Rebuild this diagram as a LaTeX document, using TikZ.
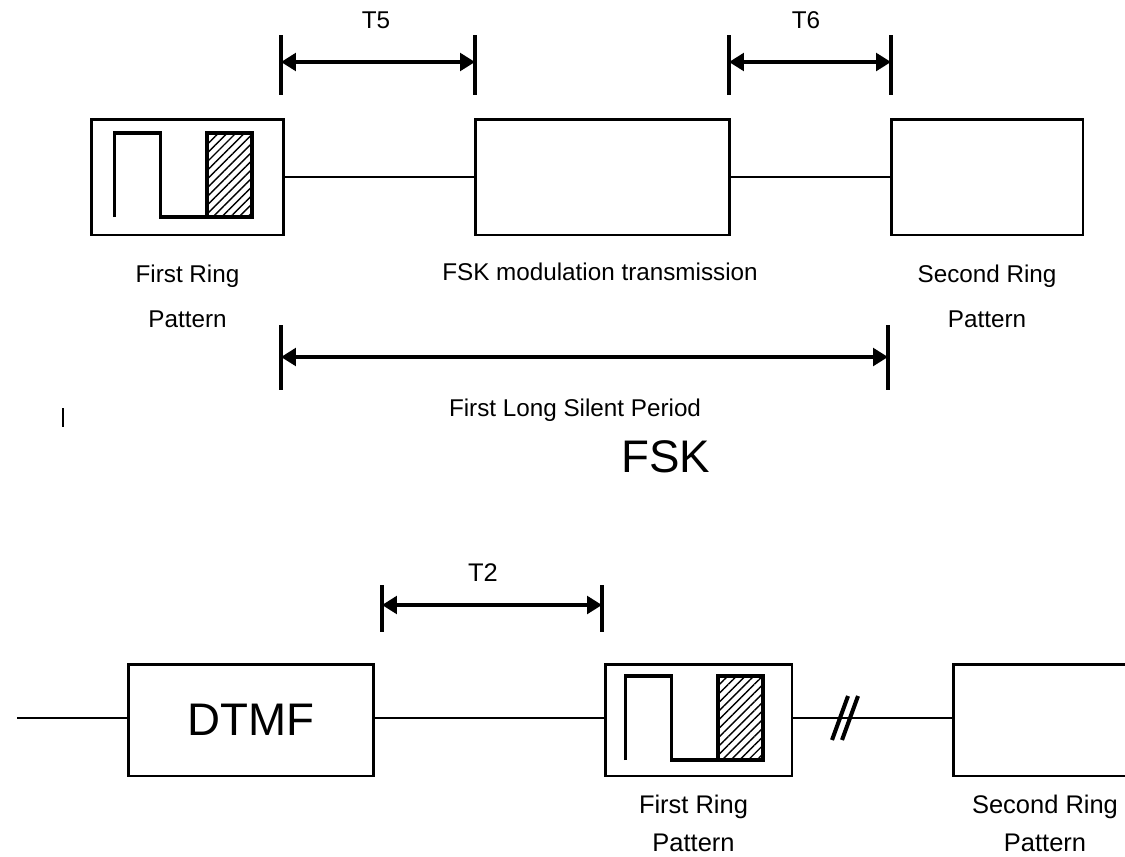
\documentclass[tikz,border=0pt]{standalone}
\usepackage{fontspec}
\setmainfont{Liberation Sans}
\usetikzlibrary{positioning,arrows.meta,patterns.meta}

\begin{document}
\begin{tikzpicture}[
  x=0.02cm, y=-0.02cm,   % one unit = one pixel of the sheet, y downwards
  lbl/.style={font=\fontsize{13.8}{25.5}\selectfont, align=center, inner sep=0pt},
  lblb/.style={font=\fontsize{14.5}{22}\selectfont, align=center, inner sep=0pt},
  big/.style={font=\fontsize{26}{30}\selectfont, inner sep=0pt},
  blk/.style={draw, line width=1.7pt, inner sep=0pt},
  wire/.style={line width=1.3pt},
  tick/.style={line width=2.3pt},
  dim/.style={{Triangle[length=8.5pt,width=10pt]}-{Triangle[length=8.5pt,width=10pt]}, line width=2pt},
  brk/.style={line width=2.3pt},
  pics/ringwave/.style={code={
    \draw[line width=2.2pt, pattern={Lines[angle=45,distance=3.5pt,line width=0.8pt]}]
      (19.5,-44) rectangle (64.5,40);
    \draw[line width=2.2pt] (-73,40) -- (-73,-44) -- (-27,-44) -- (-27,40) -- (19.5,40);
  }}
]

% ---- sheet ----
\clip (0,0) rectangle (1125,856);

% ================= FSK sequence =================
\node[blk, minimum width=3.86cm, minimum height=2.32cm] (ring1) at (187.5,177) {};
\node[blk, minimum width=5.10cm, minimum height=2.32cm] (fsk)   at (602.5,177) {};
\node[blk, minimum width=3.84cm, minimum height=2.32cm] (ring2) at (987,177) {};
\pic at (ring1.center) {ringwave};

\draw[wire] (ring1.east) -- (fsk.west);
\draw[wire] (fsk.east) -- (ring2.west);

\node[lbl, below=0.56cm of ring1] (ring1l) {First Ring\\Pattern};
\node[lbl, below=0.52cm of fsk, xshift=-0.05cm] (fskl) {FSK modulation transmission};
\node[lbl, below=0.56cm of ring2] (ring2l) {Second Ring\\Pattern};

% ---- timing marks ----
\coordinate (t5a) at (281,62);  \coordinate (t5b) at (475,62);
\coordinate (t6a) at (729,62);  \coordinate (t6b) at (891,62);
\coordinate (lsa) at (281,357); \coordinate (lsb) at (888,357);
\foreach \c/\u/\d in {t5a/27/33, t5b/27/33, t6a/27/33, t6b/27/33, lsa/32/33, lsb/32/33}
  {\draw[tick] (\c) ++(0,-\u) -- ++(0,\u+\d);}
\draw[dim] (t5a) -- (t5b);
\draw[dim] (t6a) -- (t6b);
\draw[dim] (lsa) -- (lsb);

\node[lbl] (t5) at (376,20) {T5};
\node[lbl] (t6) at (806,20) {T6};
\node[lbl] (lsp) at (575,410) {First Long Silent Period};
\node[big] (fskt) at (666,457) {FSK};

\coordinate (mk) at (63,417);
\draw[line width=1.2pt] (mk) ++(0,-9) -- ++(0,19);

% ================= DTMF sequence =================
\node[blk, minimum width=4.92cm, minimum height=2.24cm, font=\fontsize{26}{30}\selectfont] (dtmf) at (251,720) {DTMF};
\node[blk, minimum width=3.74cm, minimum height=2.24cm] (ring3) at (698.5,720) {};
\node[blk, minimum width=3.84cm, minimum height=2.24cm] (ring4) at (1049,720) {};
\pic at (ring3.center) {ringwave};

\coordinate (lin) at (17,718);
\draw[wire] (lin) -- (lin -| dtmf.west);
\draw[wire] (dtmf.east |- lin) -- (ring3.west |- lin);
\draw[wire] (ring3.east |- lin) -- (ring4.west |- lin);

% ---- break mark ----
\coordinate (cut) at (845,718);
\foreach \s in {-5,5} {\draw[brk] (cut) ++(\s-8,22) -- ++(16,-44);}

\node[lblb, below=0.34cm of ring3, xshift=-0.1cm] (ring3l) {First Ring\\Pattern};
\node[lblb, below=0.34cm of ring4, xshift=-0.08cm] (ring4l) {Second Ring\\Pattern};

% ---- timing mark ----
\coordinate (t2a) at (382,605); \coordinate (t2b) at (602,605);
\foreach \c in {t2a, t2b} {\draw[tick] (\c) ++(0,-20) -- ++(0,47);}
\draw[dim] (t2a) -- (t2b);
\node[lblb] (t2) at (483,573) {T2};

\end{tikzpicture}
\end{document}
